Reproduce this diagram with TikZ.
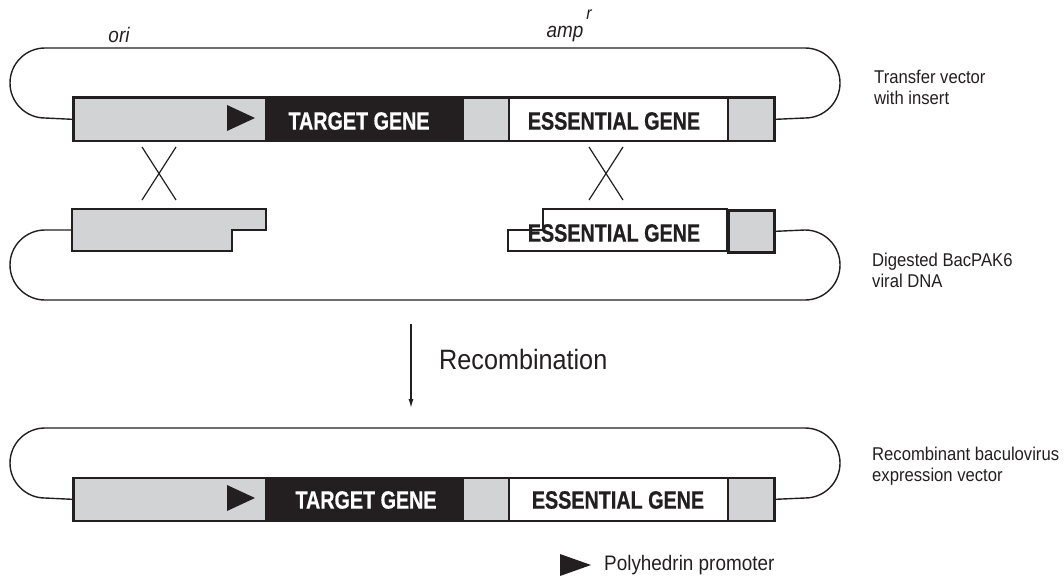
\documentclass[tikz,border=0pt]{standalone}
\usepackage{fontspec}
\usetikzlibrary{arrows.meta}
\setmainfont{Liberation Sans}[FakeStretch=0.9]
\newfontfamily\bld{Liberation Sans}[FakeStretch=0.79,FakeBold=0.6]
\definecolor{lgray}{HTML}{D1D3D4}
\definecolor{ink}{HTML}{231F20}
\begin{document}
\begin{tikzpicture}[x=1pt,y=-1pt,
  seg/.style={draw=ink,line width=2pt,inner sep=0pt,anchor=north west,minimum height=43pt},
  outer/.style={draw=ink,line width=2.6pt,inner sep=0pt,anchor=north west,minimum height=43pt,minimum width=701pt},
  dna/.style={draw=ink,line width=1.4pt},
  thin/.style={draw=ink,line width=1.3pt},
  genelbl/.style={font=\bld\bfseries\fontsize{25}{28}\selectfont,inner sep=0pt},
  sidelbl/.style={font=\fontsize{18.5}{20.5}\selectfont,align=left,anchor=north west,inner sep=0pt,text=ink},
  italbl/.style={font=\itshape\fontsize{21}{24}\selectfont,inner sep=0pt,text=ink},
  promo/.style={fill=ink},
  xline/.style={draw=ink,line width=1.2pt}
]
\useasboundingbox (0,0) rectangle (1064,575);

% ---------- Transfer vector ----------
\node[seg,fill=lgray,minimum width=193pt] (a1) at (72,96.5) {};
\node[seg,fill=ink,minimum width=197pt] (a2) at (265,96.5) {};
\node[seg,fill=lgray,minimum width=46pt] (a3) at (462,96.5) {};
\node[seg,fill=white,minimum width=219pt] (a4) at (508,96.5) {};
\node[seg,fill=lgray,minimum width=46pt] (a5) at (727,96.5) {};
\node[outer] (abox) at (72,96.5) {};
\fill[promo] (227,105) -- (255,118) -- (227,131) -- cycle;
\node[genelbl,text=white] (at) at (359,121) {TARGET GENE};
\node[genelbl,text=ink] (ae) at (614,121) {ESSENTIAL GENE};
\draw[dna] (abox.west) -- (45,118) arc[start angle=90,end angle=270,radius=35]
  -- (805,48) arc[start angle=-90,end angle=90,radius=35] -- (abox.east);
\node[italbl] (ori) at (119,35) {ori};
\node[italbl] (amp) at (565,34) {amp};
\node[inner sep=0pt,text=ink,font=\itshape\fontsize{18}{20}\selectfont,anchor=center] (ampr) at (589,15) {r};
\node[sidelbl] (tv) at (874,70) {Transfer vector\\with insert};

% ---------- crossovers ----------
\draw[xline] (142,147) -- (176,200);
\draw[xline] (176,147) -- (142,200);
\draw[xline] (589,147) -- (623,200);
\draw[xline] (623,147) -- (589,200);

% ---------- Digested BacPAK6 ----------
\node[inner sep=0pt,minimum width=1pt] (b1) at (72,230) {};
\filldraw[fill=lgray,thin] (72,209) -- (266,209) -- (266,230) -- (232,230) -- (232,251) -- (72,251) -- cycle;
\filldraw[fill=white,thin] (543,209) -- (727,209) -- (727,251) -- (508,251) -- (508,230) -- (543,230) -- cycle;
\node[outer,fill=lgray,minimum width=46pt,minimum height=42pt] (b5) at (727,209) {};
\node[genelbl,text=ink] (be) at (614,233) {ESSENTIAL GENE};
\draw[dna] (b1.center) -- (45,230) arc[start angle=270,end angle=90,radius=35]
  -- (805,300) arc[start angle=90,end angle=-90,radius=35] -- (b5.east);
\node[sidelbl] (dv) at (872,253) {Digested BacPAK6\\viral DNA};

% ---------- arrow ----------
\coordinate (r1) at (411,324);
\coordinate (r2) at (411,408);
\draw[draw=ink,line width=1.2pt,-{Latex[length=9pt,width=5pt]}] (r1) -- (r2);
\node[anchor=west,inner sep=0pt,text=ink,font=\fontsize{28}{32}\selectfont] (rec) at (439,359) {Recombination};

% ---------- Recombinant vector ----------
\node[seg,fill=lgray,minimum width=193pt] (c1) at (72,476.5) {};
\node[seg,fill=ink,minimum width=197pt] (c2) at (265,476.5) {};
\node[seg,fill=lgray,minimum width=46pt] (c3) at (462,476.5) {};
\node[seg,fill=white,minimum width=219pt] (c4) at (508,476.5) {};
\node[seg,fill=lgray,minimum width=46pt] (c5) at (727,476.5) {};
\node[outer] (cbox) at (72,476.5) {};
\fill[promo] (227,485) -- (255,498) -- (227,511) -- cycle;
\node[genelbl,text=white] (ct) at (366,500) {TARGET GENE};
\node[genelbl,text=ink] (ce) at (618,500) {ESSENTIAL GENE};
\draw[dna] (cbox.west) -- (45,498) arc[start angle=90,end angle=270,radius=35]
  -- (805,428) arc[start angle=-90,end angle=90,radius=35] -- (cbox.east);
\node[sidelbl] (rv) at (872,447) {Recombinant baculovirus\\expression vector};

% ---------- legend ----------
\fill[promo] (560,554) -- (591,565) -- (560,576) -- cycle;
\node[anchor=west,inner sep=0pt,text=ink,font=\fontsize{21}{24}\selectfont] (leg) at (604,565) {Polyhedrin promoter};
\end{tikzpicture}
\end{document}
